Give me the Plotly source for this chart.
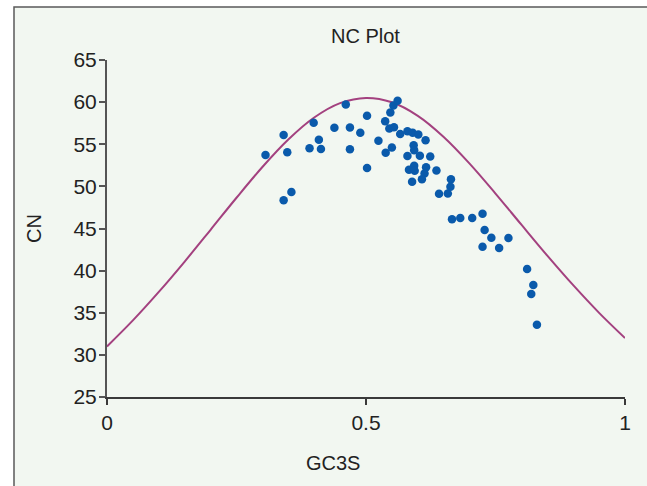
import plotly.graph_objects as go

# Observed genes (GC3S, ENC)
gc3s = [0.306, 0.341, 0.348, 0.341, 0.356, 0.399, 0.391, 0.409, 0.413, 0.439,
        0.461, 0.469, 0.469, 0.489, 0.502, 0.502, 0.524, 0.537, 0.538, 0.547,
        0.545, 0.554, 0.553, 0.561, 0.550, 0.566, 0.580, 0.590, 0.601, 0.592,
        0.593, 0.580, 0.604, 0.615, 0.624, 0.593, 0.583, 0.594, 0.616, 0.613,
        0.608, 0.589, 0.636, 0.641, 0.658, 0.664, 0.663, 0.666, 0.682, 0.705,
        0.725, 0.729, 0.742, 0.775, 0.725, 0.757, 0.811, 0.823, 0.819, 0.830]
enc = [53.72, 56.10, 54.04, 48.36, 49.33, 57.56, 54.53, 55.53, 54.44, 56.95,
       59.72, 56.99, 54.40, 56.36, 58.38, 52.18, 55.41, 57.72, 53.99, 58.77,
       56.87, 57.02, 59.60, 60.17, 54.61, 56.22, 56.55, 56.36, 56.16, 54.88,
       54.28, 53.61, 53.64, 55.47, 53.55, 52.45, 51.98, 51.86, 52.28, 51.53,
       50.84, 50.55, 51.88, 49.12, 49.15, 50.85, 49.95, 46.09, 46.25, 46.25,
       46.76, 44.82, 43.91, 43.87, 42.84, 42.69, 40.19, 38.29, 37.23, 33.58]

# Expected curve values
curve_x = [0.0, 0.05, 0.1, 0.15, 0.2, 0.25, 0.3, 0.35, 0.4, 0.45, 0.5,
           0.55, 0.6, 0.65, 0.7, 0.75, 0.8, 0.85, 0.9, 0.95, 1.0]
curve_y = [31.0, 34.09, 37.47, 41.08, 44.85, 48.65, 52.3, 55.56, 58.17, 59.88, 60.5,
           59.98, 58.37, 55.86, 52.7, 49.15, 45.45, 41.78, 38.27, 34.99, 32.0]

x_ticks = [0, 0.5, 1]
x_tick_labels = ["0", "0.5", "1"]
y_ticks = [25, 30, 35, 40, 45, 50, 55, 60, 65]

W, H = 647, 486
L, R, T, B = 107, 22, 60, 89
pw, ph = W - L - R, H - T - B

def px(xp):
    return (xp - L) / pw

def py(yp):
    return (H - B - yp) / ph

fig = go.Figure()
fig.add_trace(go.Scatter(x=curve_x, y=curve_y, mode="lines", line=dict(color="#a3417f", width=2, shape="spline"),
                         hoverinfo="skip", showlegend=False, cliponaxis=False))
fig.add_trace(go.Scatter(x=gc3s, y=enc, mode="markers", marker=dict(color="#0a5aab", size=8.5),
                         showlegend=False))

fig.add_shape(type="rect", xref="paper", yref="paper", x0=px(14), x1=px(700), y0=py(540), y1=py(7),
              fillcolor="#f2f7f1", line=dict(color="#5a5a5a", width=1.5), layer="below")

font = "Liberation Sans, Arial, sans-serif"
fig.add_annotation(text="NC Plot", xref="paper", yref="paper", x=px(365.5), y=py(36), showarrow=False,
                   font=dict(size=20, color="#222", family=font), xanchor="center", yanchor="middle")
fig.add_annotation(text="GC3S", xref="paper", yref="paper", x=px(333), y=py(463), showarrow=False,
                   font=dict(size=20, color="#222", family=font), xanchor="center", yanchor="middle")
fig.add_annotation(text="CN", xref="paper", yref="paper", x=px(34), y=py(229), showarrow=False, textangle=-90,
                   font=dict(size=20, color="#222", family=font), xanchor="center", yanchor="middle")

fig.update_layout(
    width=W, height=H, margin=dict(l=L, r=R, t=T, b=B),
    paper_bgcolor="white", plot_bgcolor="rgba(0,0,0,0)",
    font=dict(family=font, size=20, color="#222"),
    xaxis=dict(range=[0, 1], tickvals=x_ticks, ticktext=x_tick_labels, showgrid=False, zeroline=False,
               showline=True, linecolor="#3a3a3a", linewidth=1.5, ticks="outside", ticklen=6,
               tickcolor="#3a3a3a", tickwidth=1.5, tickfont=dict(size=21, color="#222")),
    yaxis=dict(range=[25, 65], tickvals=y_ticks, showgrid=False, zeroline=False,
               showline=True, linecolor="#555", linewidth=2, ticks="outside", ticklen=6,
               tickcolor="#555", tickwidth=1.5, tickfont=dict(size=21, color="#222"), ticklabelstandoff=-2),
)

fig.write_html("out.html")
